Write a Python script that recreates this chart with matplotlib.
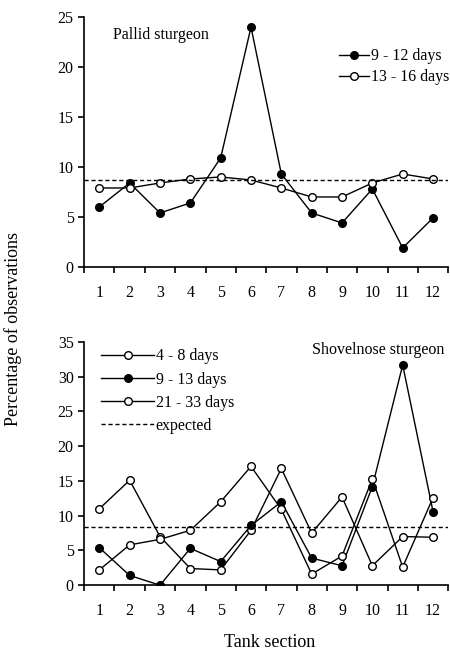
import numpy as np
import matplotlib

matplotlib.use("Agg")
import matplotlib.pyplot as plt

plt.rcParams["font.family"] = ["Liberation Serif", "DejaVu Serif"]

sections = list(range(1, 13))

# Pallid sturgeon
pallid_9_12 = [6.0, 8.4, 5.4, 6.4, 10.9, 24.0, 9.3, 5.4, 4.4, 7.8, 1.9, 4.9]
pallid_13_16 = [7.9, 7.9, 8.4, 8.8, 9.0, 8.7, 7.9, 7.0, 7.0, 8.4, 9.3, 8.8]
pallid_expected = 8.7

# Shovelnose sturgeon
shovel_4_8 = [11.0, 15.1, 7.0, 2.4, 2.2, 7.9, 16.8, 7.5, 12.7, 2.8, 7.0, 6.9]
shovel_9_13 = [5.4, 1.4, 0.0, 5.3, 3.4, 8.6, 12.0, 3.9, 2.8, 14.2, 31.7, 10.6]
shovel_21_33 = [2.2, 5.8, 6.6, 7.9, 12.0, 17.1, 10.9, 1.6, 4.2, 15.3, 2.6, 12.6]
shovel_expected = 100 / 12

fig = plt.figure(figsize=(4.5, 6.59), dpi=100)
ax1 = fig.add_axes([0.187, 0.595, 0.809, 0.379])
ax2 = fig.add_axes([0.187, 0.112, 0.809, 0.369])

style = dict(color="black", lw=1.0, markersize=5.5, markeredgewidth=1.0)


def setup(ax, ymax, step):
    ax.set_xlim(0.5, 12.5)
    ax.set_ylim(0, ymax)
    for s in ("top", "right"):
        ax.spines[s].set_visible(False)
    ax.spines["left"].set_linewidth(1.2)
    ax.spines["bottom"].set_linewidth(1.2)
    ax.set_xticks(sections, labels=[str(s) for s in sections])
    ax.set_xticks(np.arange(0.5, 13, 1), minor=True)
    ax.tick_params(axis="x", which="major", length=0, pad=13, labelsize=11.5)
    ax.tick_params(axis="x", which="minor", length=4, width=1.2, direction="out")
    ax.set_yticks(np.arange(0, ymax + 0.1, step))
    ax.tick_params(axis="y", length=4, width=1.2, direction="out", labelsize=11.5)


# Top panel
ax1.plot(sections, pallid_9_12, marker="o", mfc="black", mec="black",
         label="9 - 12 days", **style)
ax1.plot(sections, pallid_13_16, marker="o", mfc="white", mec="black",
         label="13 - 16 days", **style)
ax1.axhline(pallid_expected, color="black", lw=1.0, ls=(0, (3, 2)))
setup(ax1, 25, 5)
ax1.text(0.08, 0.96, "Pallid sturgeon", transform=ax1.transAxes,
         fontsize=11.5, va="top", ha="left")
ax1.legend(loc="upper right", bbox_to_anchor=(1.02, 0.9), frameon=False,
           fontsize=11.5, handlelength=1.9, handletextpad=0.1, labelspacing=0.3,
           borderaxespad=0)

# Bottom panel
ax2.plot(sections, shovel_4_8, marker="o", mfc="white", mec="black",
         label="4 - 8 days", **style)
ax2.plot(sections, shovel_9_13, marker="o", mfc="black", mec="black",
         label="9 - 13 days", **style)
ax2.plot(sections, shovel_21_33, marker="o", mfc="white", mec="black",
         label="21 - 33 days", **style)
ax2.axhline(shovel_expected, color="black", lw=1.0, ls=(0, (3, 2)),
            label="expected")
setup(ax2, 35, 5)
ax2.text(0.99, 1.0, "Shovelnose sturgeon", transform=ax2.transAxes,
         fontsize=11.5, va="top", ha="right")
ax2.legend(loc="upper left", bbox_to_anchor=(0.03, 1.0), frameon=False,
           fontsize=11.5, handlelength=3.3, handletextpad=0.1, labelspacing=0.45,
           borderaxespad=0)

fig.text(0.03, 0.5, "Percentage of observations", rotation=90,
         va="center", ha="center", fontsize=13)
fig.text(0.6, 0.025, "Tank section", va="center", ha="center", fontsize=13)

fig.savefig("out.png", dpi=100)
